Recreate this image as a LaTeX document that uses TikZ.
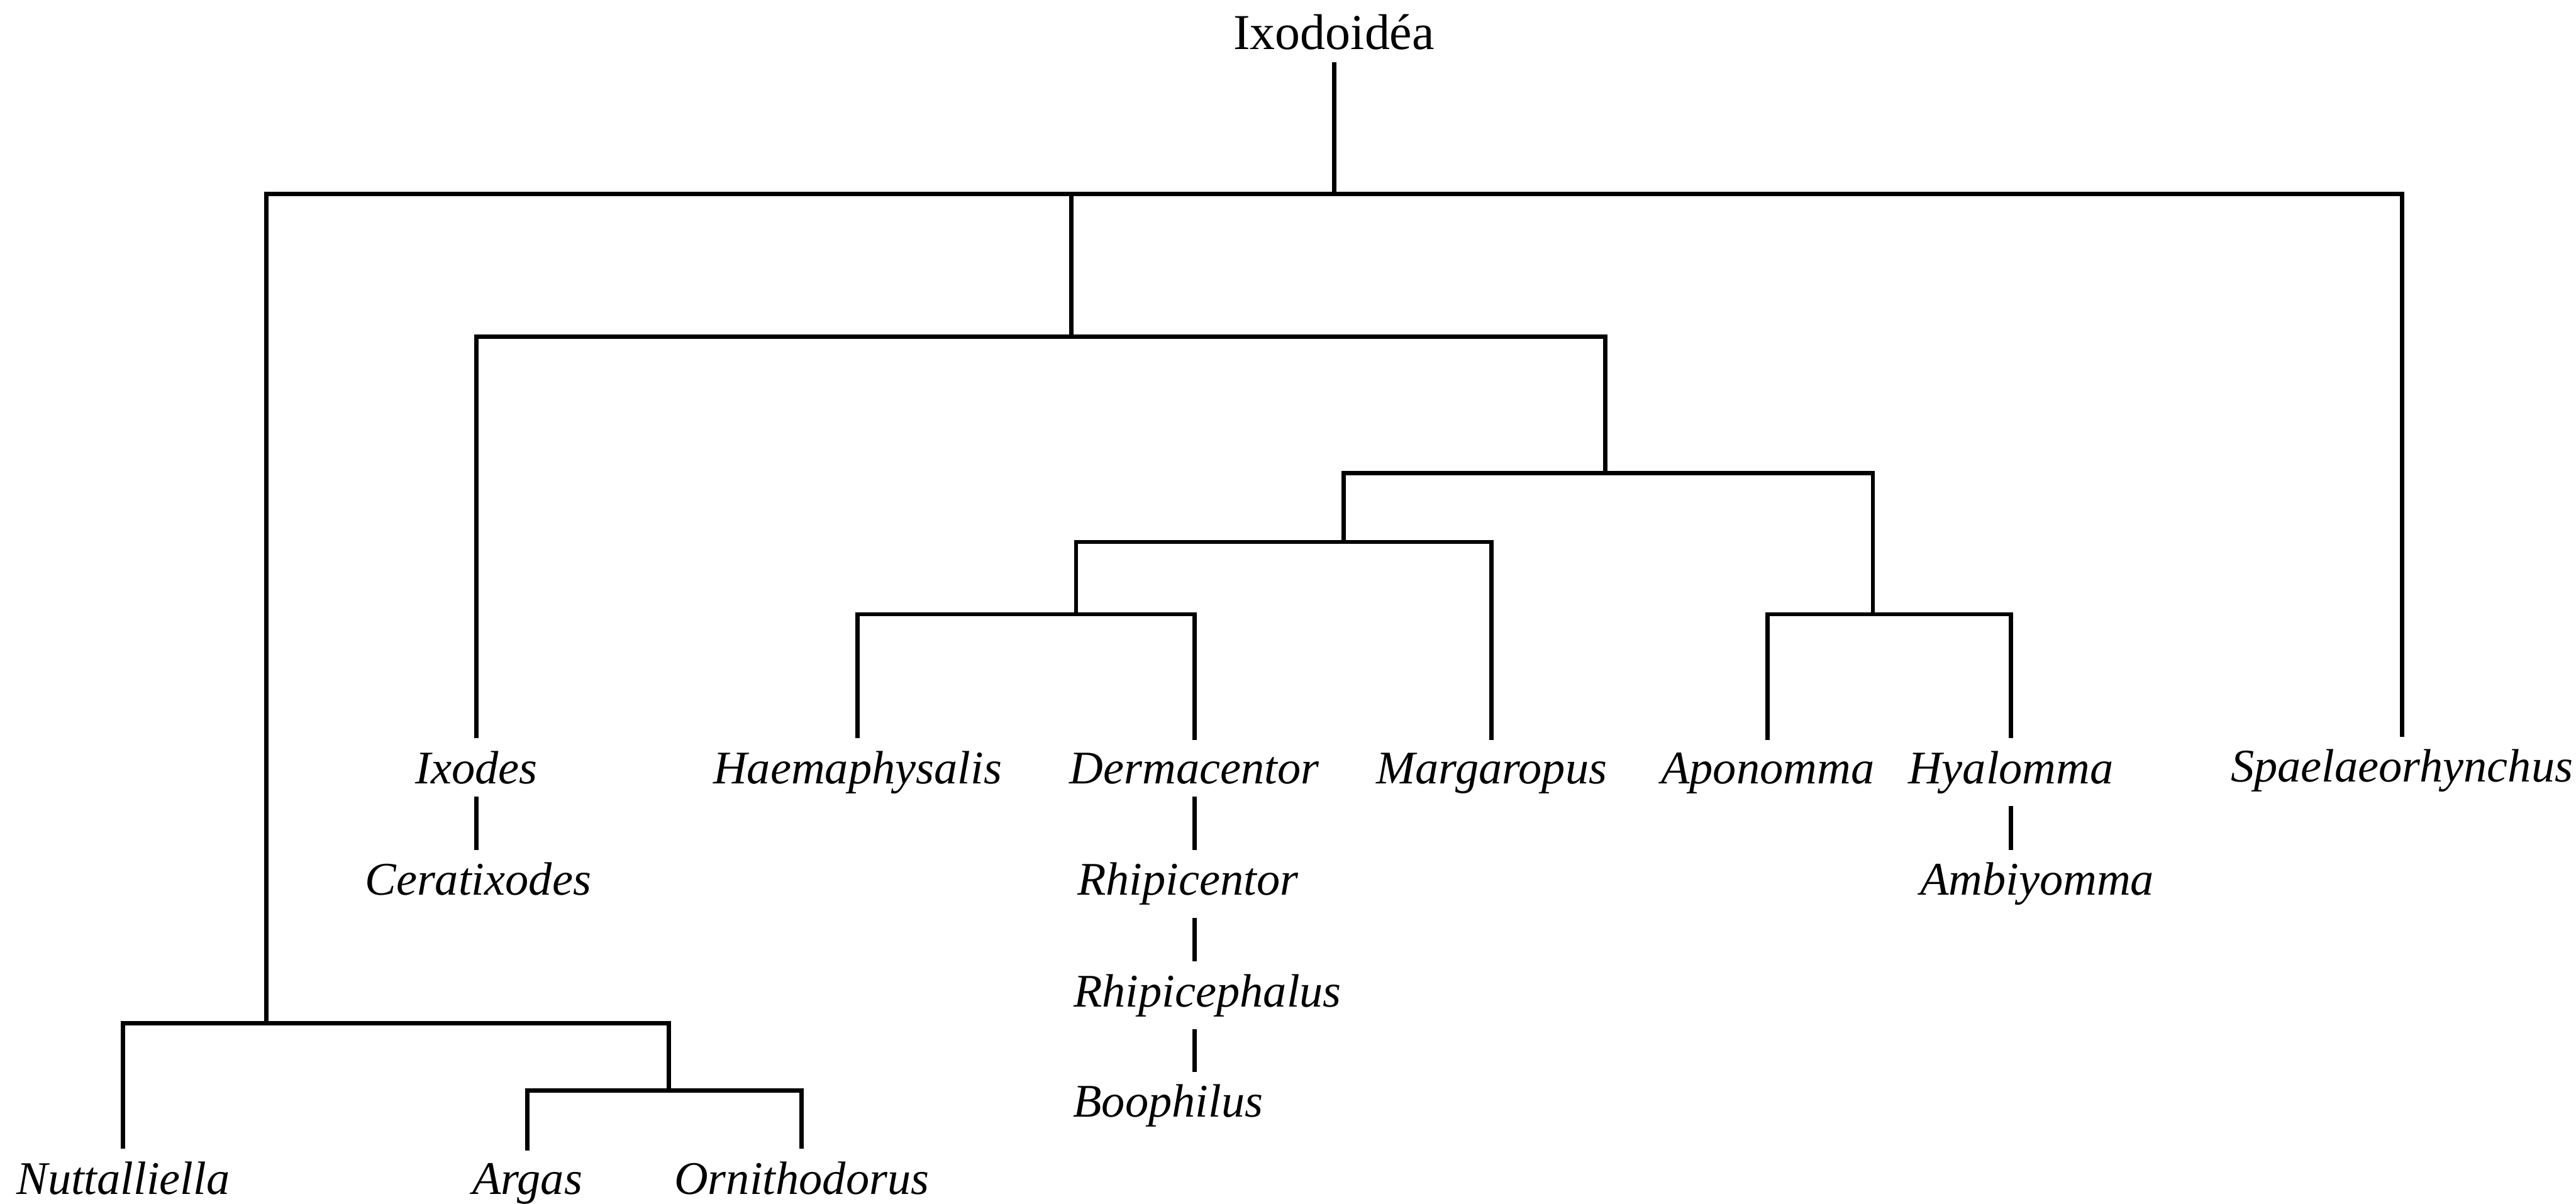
\documentclass[tikz,border=0pt]{standalone}
\usepackage{fontspec}
\setmainfont{Liberation Serif}
\usetikzlibrary{positioning}

\begin{document}
\begin{tikzpicture}[
  x=0.01cm, y=-0.01cm,
  genus/.style={font=\fontsize{8.1}{10}\selectfont\itshape, inner sep=2pt, anchor=base},
  rootlbl/.style={font=\fontsize{8.7}{10}\selectfont, inner sep=2pt, anchor=base},
  branch/.style={line width=0.75pt},
]
\useasboundingbox (0,0) rectangle (1568,733);

% Root
\node[rootlbl] (root) at (812,30) {Ixodoidéa};

% Forks
\coordinate (f0) at (812,118);
\coordinate (f1) at (652,205);
\coordinate (f2) at (977,288);
\coordinate (f3) at (818,330);
\coordinate (f4) at (655,374);
\coordinate (f5) at (1140,374);
\coordinate (f6) at (162,623);
\coordinate (f7) at (407,664);

% Genera, first row
\node[genus] (ixo) at (290,477) {Ixodes};
\node[genus] (hae) at (522,477) {Haemaphysalis};
\node[genus] (der) at (727,477) {Dermacentor};
\node[genus] (mar) at (908,477) {Margaropus};
\node[genus] (apo) at (1076,477) {Aponomma};
\node[genus] (hya) at (1224,477) {Hyalomma};
\node[genus] (spa) at (1462,476) {Spaelaeorhynchus};

% Genera, lower rows
\node[genus] (cer) at (291,545) {Ceratixodes};
\node[genus] (rhc) at (723,545) {Rhipicentor};
\node[genus] (amb) at (1240,545) {Ambiyomma};
\node[genus] (rhp) at (735,613) {Rhipicephalus};
\node[genus] (boo) at (711,680) {Boophilus};
\node[genus] (nut) at (75,727) {Nuttalliella};
\node[genus] (arg) at (321,727) {Argas};
\node[genus] (orn) at (488,727) {Ornithodorus};

% Root and first fork
\draw[branch] (root.south) -- (f0);
\draw[branch] (f6) |- (f0) -| (spa.north);
\draw[branch] (f1 |- f0) -- (f1);

% Ixodidae
\draw[branch] (ixo.north) |- (f1) -| (f2);
\draw[branch] (f3) |- (f2) -| (f5);
\draw[branch] (f4) |- (f3) -| (mar.north);
\draw[branch] (hae.north) |- (f4) -| (der.north);
\draw[branch] (apo.north) |- (f5) -| (hya.north);

% Argasidae
\draw[branch] (nut.north) |- (f6) -| (f7);
\draw[branch] (arg.north) |- (f7) -| (orn.north);

% Chains
\draw[branch] (ixo.south) -- (cer.north -| ixo.south);
\draw[branch] (der.south) -- (rhc.north -| der.south);
\draw[branch] (rhc.south -| der.south) -- (rhp.north -| der.south);
\draw[branch] (rhp.south -| der.south) -- (boo.north -| der.south);
\draw[branch] (hya.south) -- (amb.north -| hya.south);
\end{tikzpicture}
\end{document}
